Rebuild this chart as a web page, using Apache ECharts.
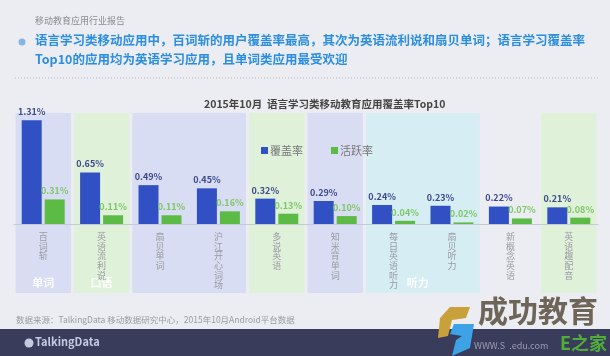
<!DOCTYPE html>
<html>
<head>
<meta charset="utf-8">
<script src="https://cdn.jsdelivr.net/npm/echarts@6/dist/echarts.min.js"></script>
<style>
html,body{margin:0;padding:0;background:#ecedf2;}
#c{width:610px;height:356px;}
</style>
</head>
<body>
<div id="c"></div>
<script>
const categories = ['百词斩','英语流利说','扇贝单词','沪江开心词场','多说英语','知米背单词','每日英语听力','扇贝听力','新概念英语','英语趣配音'];
const coverage = [1.31, 0.65, 0.49, 0.45, 0.32, 0.29, 0.24, 0.23, 0.22, 0.21];
const activity = [0.31, 0.11, 0.11, 0.16, 0.13, 0.10, 0.04, 0.02, 0.07, 0.08];
const seriesNames = ['覆盖率','活跃率'];
// bands: [startIndex, endIndex, colorIndex, label]
const bandStart = [0, 1, 2, 4, 5, 6, 9];
const bandEnd   = [0, 1, 3, 4, 5, 7, 9];
const bandKind  = [0, 1, 0, 1, 0, 2, 1];
const bandLabel = ['单词','口语','','','','听力',''];
const bandColors = ['#d9ddf3', '#e0f1da', '#d5edf3'];

const FONT = '"Noto Sans CJK SC", "Noto Sans", sans-serif';
const chart = echarts.init(document.getElementById('c'), null, {renderer:'canvas'});

const bandData = bandStart.map((s,i)=>[s, bandEnd[i], bandKind[i], bandLabel[i]]);

chart.setOption({
  backgroundColor:'#ecedf2',
  animation:false,
  textStyle:{fontFamily:FONT},
  title:{
    text:'2015年10月  语言学习类移动教育应用覆盖率Top10',
    left:199, top:94,
    textStyle:{fontSize:10.5, fontWeight:'bold', color:'#444', fontFamily:FONT}
  },
  legend:{
    data:seriesNames,
    left:256, top:140,
    icon:'rect', itemWidth:7, itemHeight:7, itemGap:28,
    textStyle:{fontSize:11, color:'#777', fontFamily:FONT, padding:[0,0,0,-3]}
  },
  grid:{left:14, right:12, top:113, bottom:132},
  xAxis:{
    type:'category', data:categories, z:5,
    axisLine:{lineStyle:{color:'#c5c9d3', width:1}},
    axisTick:{show:false},
    axisLabel:{
      interval:0, margin:8, color:'#9a9aa2', fontSize:9, lineHeight:9.6,
      fontFamily:FONT,
      formatter:v=>v.split('').join('\n'), verticalAlign:'top'
    }
  },
  yAxis:{type:'value', min:0, max:1.4, show:false, splitLine:{show:false}},
  series:[
    {
      type:'custom', z:1, silent:true, clip:false, data:bandData,
      renderItem:(params, api)=>{
        const s = api.value(0), e = api.value(1);
        const k = api.value(2);
        const lab = bandData[params.dataIndex][3];
        const w = api.size([1,0])[0];
        const x0 = api.coord([s,0])[0] - w/2 + 1.5;
        const x1 = api.coord([e,0])[0] + w/2 - 1.5;
        const cs = params.coordSys;
        const bottom = cs.y + cs.height + 69;
        const children = [{type:'rect', shape:{x:x0, y:cs.y, width:x1-x0, height:bottom-cs.y}, style:{fill:bandColors[k]}}];
        if (lab) children.push({type:'text', style:{text:lab, x:(x0+x1)/2 - (e>s?5:0), y:bottom-10, align:'center', verticalAlign:'middle', fill:'rgba(255,255,255,0.9)', font:'bold 11px '+FONT}});
        return {type:'group', children};
      }
    },
    {
      name:seriesNames[0], type:'bar', data:coverage, barWidth:20, barGap:'15%', z:3,
      itemStyle:{color:'#3150c3'},
      label:{show:true, position:'top', distance:4, formatter:p=>p.value.toFixed(2)+'%', fontSize:9, fontWeight:'bold', color:'#3c4a8a', fontFamily:FONT}
    },
    {
      name:seriesNames[1], type:'bar', data:activity, barWidth:20, z:3,
      itemStyle:{color:'#5cbb45'},
      label:{show:true, position:'top', distance:4, formatter:p=>p.value.toFixed(2)+'%', fontSize:9, fontWeight:'bold', color:'#7cc766', fontFamily:FONT}
    }
  ],
  graphic:[
    {type:'text', left:35, top:16, style:{text:'移动教育应用行业报告', fill:'#8a8a90', font:'9px '+FONT}},
    {type:'circle', shape:{cx:22, cy:42, r:3.5}, style:{fill:'#86b6dc'}},
    {type:'text', left:35, top:34, style:{text:'语言学习类移动应用中，百词斩的用户覆盖率最高，其次为英语流利说和扇贝单词；语言学习覆盖率', fill:'#2b8ee0', font:'bold 12.5px '+FONT}},
    {type:'text', left:35, top:53, style:{text:'Top10的应用均为英语学习应用，且单词类应用最受欢迎', fill:'#2b8ee0', font:'bold 12.5px '+FONT}},
    {type:'line', shape:{x1:15, y1:78, x2:600, y2:78}, style:{stroke:'#b9bcc4', lineWidth:1, lineDash:[1,2]}},
    {type:'text', left:16, top:316, style:{text:'数据来源：TalkingData 移动数据研究中心，2015年10月Android平台数据', fill:'#9a9aa2', font:'8.5px '+FONT}},
    {type:'rect', shape:{x:0, y:329, width:610, height:27}, style:{fill:'#3a3c5c'}},
    {type:'circle', shape:{cx:29, cy:343, r:4.5}, style:{fill:'#c6cae0'}},
    {type:'text', left:35, top:336, style:{text:'TalkingData', fill:'#c6cae0', font:'bold 11px '+FONT}},
    {type:'polygon', shape:{points:[[450,307],[470,307],[466,318],[452,320],[448,336],[438,338],[440,318]]}, style:{fill:'#c9a13a'}},
    {type:'polygon', shape:{points:[[454,324],[474,324],[470,348],[452,356],[456,340],[462,336],[450,334]]}, style:{fill:'#3ea2e6'}},
    {type:'text', left:478, top:296, style:{text:'成功教育', fill:'#6d6558', font:'bold 30px '+FONT}},
    {type:'text', left:474, top:341, style:{text:'WWW.S  .edu.com', fill:'#9a9ab0', font:'9px '+FONT}},
    {type:'text', left:560, top:334, style:{text:'E之家', fill:'#4fae3a', font:'bold 18px '+FONT}}
  ]
});
</script>
</body>
</html>
